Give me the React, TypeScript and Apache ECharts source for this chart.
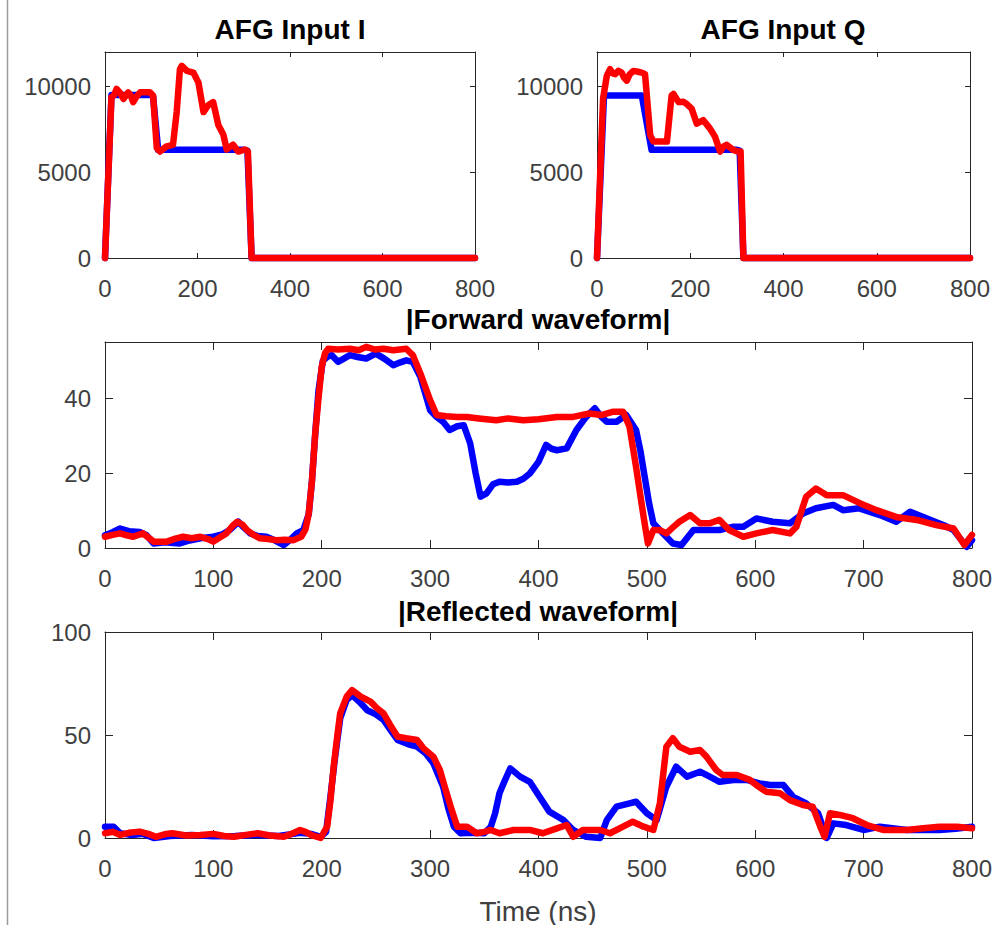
import React, { useEffect, useRef } from "react";
import * as echarts from "echarts";

// ---- Data (time in ns, value) ----
const inputIBlue: [number, number][] = [
  [0, 0], [14, 9500], [100, 9500], [104, 9400], [115, 6300], [300, 6300], [308, 6250], [317, 0], [800, 0],
];
const inputIRed: [number, number][] = [
  [0, 0], [14, 9370], [20, 9500], [25, 9850], [33, 9600], [40, 9270], [50, 9650], [55, 9500], [61, 9080],
  [68, 9400], [76, 9650], [90, 9650], [97, 9650], [104, 9460], [112, 6400], [119, 6200], [133, 6500],
  [147, 6590], [155, 8500], [162, 10990], [166, 11190], [177, 10900], [191, 10800], [202, 10230],
  [213, 8500], [223, 8900], [234, 9080], [245, 7750], [256, 7180], [263, 6320], [277, 6600], [288, 6200],
  [303, 6320], [309, 6200], [317, 0], [800, 0],
];
const inputQBlue: [number, number][] = [
  [0, 0], [15, 9465], [96, 9465], [117, 6300], [300, 6300], [306, 6250], [314, 0], [800, 0],
];
const inputQRed: [number, number][] = [
  [0, 0], [13, 9270], [21, 10610], [28, 11000], [34, 10750], [39, 10710], [46, 10900], [53, 10800],
  [58, 10500], [64, 10330], [70, 10700], [78, 10900], [88, 10850], [96, 10800], [103, 10710],
  [114, 7160], [121, 6780], [135, 6780], [150, 6780], [160, 9465], [164, 9560], [175, 9080], [185, 9100],
  [192, 8980], [203, 8700], [214, 7830], [228, 8030], [242, 7550], [253, 7070], [264, 6200], [272, 6500],
  [278, 6590], [292, 6300], [303, 6200], [308, 6200], [314, 0], [800, 0],
];
const forwardBlue: [number, number][] = [
  [0, 3.4], [7, 4.2], [14, 5.2], [22, 4.5], [32, 4.3], [38, 3.5], [45, 1.2], [55, 1.5], [69, 1.2], [78, 2.0],
  [88, 2.6], [100, 3.0], [108, 3.6], [115, 4.8], [123, 7.0], [128, 5.5], [134, 3.9], [141, 3.2], [149, 3.0],
  [157, 2.0], [165, 0.8], [172, 2.5], [177, 3.9], [183, 4.8], [188, 9], [191, 18], [194, 30.6], [197, 42],
  [201, 50], [205, 51], [209, 51.5], [215, 49.7], [220, 50.5], [226, 51.5], [233, 51], [241, 50.6],
  [250, 51.9], [258, 50.5], [266, 48.8], [272, 49.5], [278, 50.1], [284, 49.7], [291, 45.7], [300, 36.8],
  [306, 35], [312, 33.7], [318, 31.5], [325, 32.5], [331, 32.8], [337, 27.9], [342, 20], [346.5, 13.7],
  [352, 14.6], [358, 17], [364, 17.7], [372, 17.5], [380, 17.7], [386, 18.5], [392, 19.9], [400, 23],
  [407, 27.5], [412, 26.5], [417, 26.1], [426, 26.6], [435, 31.5], [444, 35], [452, 37.3], [458, 35],
  [463, 33.7], [472, 33.7], [481, 35.5], [490, 31.5], [494, 26], [498, 19], [502, 12], [506, 6.6],
  [515, 3.9], [524, 1.2], [532, 0.8], [538, 3], [543, 4.8], [555, 4.8], [567, 4.8], [580, 5.7], [589, 5.7],
  [601, 7.9], [616, 7.0], [632, 6.6], [644, 9.2], [656, 10.6], [672, 11.5], [681, 10.1], [696, 10.6],
  [715, 8.8], [730, 7.0], [743, 9.7], [755, 8.3], [774, 6.1], [783, 4.8], [795, 0.3], [800, 2.1],
];
const forwardRed: [number, number][] = [
  [0, 3.0], [7, 3.5], [14, 3.9], [20, 3.4], [26, 3.0], [35, 3.9], [45, 1.7], [57, 1.7], [65, 2.5], [72, 3.0],
  [80, 2.6], [88, 3.0], [95, 2.4], [100, 1.7], [107, 3.0], [112, 3.9], [118, 6.0], [122, 7.0], [127, 6.2],
  [131, 4.8], [137, 3.5], [143, 2.6], [150, 2.4], [158, 2.1], [166, 2.2], [174, 2.1], [181, 3.0], [185, 5.0],
  [188, 9.2], [191, 18], [194, 30.6], [197, 40], [200, 48.4], [203, 52], [206, 53.2], [215, 53.0],
  [226, 53.2], [234, 52.8], [241, 53.7], [249, 53.0], [257, 53.2], [266, 52.8], [278, 53.2], [284, 51.5],
  [291, 46.6], [300, 39.5], [306, 35.5], [315, 35.2], [325, 35.0], [334, 35.0], [345, 34.6], [361, 34.1],
  [372, 34.6], [386, 34.1], [400, 34.4], [417, 35.0], [432, 35.0], [447, 35.9], [458, 35.5], [469, 36.4],
  [478, 36.4], [484, 32.4], [490, 21.7], [497, 8.3], [501, 1.2], [506, 4.8], [512, 4.8], [518, 3.9],
  [524, 5.5], [530, 7.0], [540, 8.8], [549, 6.6], [558, 6.6], [567, 7.5], [576, 4.8], [589, 3.0],
  [601, 3.9], [616, 4.8], [632, 3.9], [638, 5.7], [647, 13.7], [656, 15.9], [666, 14.1], [681, 14.1],
  [697, 11.9], [712, 10.1], [730, 8.3], [749, 7.5], [767, 6.1], [783, 5.2], [793, 0.8], [800, 3.5],
];
const reflectedBlue: [number, number][] = [
  [0, 5.5], [8, 5.5], [14, 2.3], [25, 1.5], [35, 2], [45, 0], [60, 1], [80, 1.5], [100, 0.8], [120, 1],
  [140, 1.5], [160, 1], [180, 2.5], [190, 2], [199, 0.5], [204, 3], [208, 20], [212, 37.9], [217, 58],
  [223, 67], [228, 69.4], [235, 66], [242, 62], [250, 60], [257, 57.3], [264, 52], [270, 47.6], [280, 45.5],
  [288, 44.3], [296, 41], [303, 36.3], [312, 24.9], [317, 14], [322, 5.5], [328, 2.3], [340, 2.5],
  [350, 2.3], [356, 5.5], [360, 12], [364, 21.7], [369, 28], [374, 33.8], [383, 29.8], [392, 27.3],
  [401, 20], [410, 12.8], [423, 8.7], [432, 3.9], [444, 0.6], [457, 0], [463, 8.7], [472, 15.2],
  [484, 16.8], [490, 17.6], [500, 12], [509, 8.7], [518, 24.9], [527, 34.6], [537, 29.8], [549, 32.2],
  [558, 29.8], [567, 27.3], [580, 28.2], [592, 28.2], [604, 26.5], [614, 25.7], [626, 25.7], [635, 20],
  [647, 16.8], [658, 12], [666, 0], [672, 7.1], [684, 6.3], [700, 3.9], [715, 5.5], [740, 3.9],
  [770, 3.9], [785, 4.5], [800, 5.5],
];
const reflectedRed: [number, number][] = [
  [0, 2.3], [7, 3], [14, 1.5], [22, 2.5], [32, 3.1], [40, 2], [47, 0.6], [55, 1.8], [62, 2.3], [75, 1.2],
  [88, 1.5], [100, 2], [110, 1], [119, 0.6], [130, 1.5], [141, 2.3], [152, 1.2], [165, 0.6], [172, 2],
  [180, 3.9], [185, 3], [190, 1.5], [199, 0], [205, 5.5], [208, 18], [211, 34.6], [214, 48], [217, 60.5],
  [223, 68.6], [228, 71.8], [236, 68.6], [245, 66.2], [251, 63], [257, 60.5], [263, 55], [270, 49.2],
  [278, 48.4], [288, 47.6], [294, 43.5], [303, 39.5], [309, 33], [314, 24], [319, 15.2], [325, 5.5],
  [334, 5.5], [343, 2.3], [350, 3], [356, 3.9], [364, 2.3], [377, 3.9], [392, 3.9], [404, 2.3], [417, 4.7],
  [426, 6.3], [432, 0.6], [441, 3.9], [457, 3.9], [466, 2.3], [478, 5.5], [487, 7.9], [497, 5.5],
  [506, 3.9], [512, 16.8], [518, 44.3], [524, 48.4], [530, 44.3], [540, 41.9], [549, 42.7], [555, 39.5],
  [564, 33], [570, 30.6], [583, 30.6], [595, 28.2], [601, 25.7], [610, 22.5], [623, 21.7], [632, 18.4],
  [644, 16], [653, 15.2], [660, 5.5], [664, 0.6], [669, 12], [678, 11.2], [690, 9.6], [703, 6.3],
  [718, 3.9], [740, 3.9], [755, 4.7], [770, 5.5], [786, 5.5], [800, 4.7],
];

const panelTitles = ["AFG Input I", "AFG Input Q", "|Forward waveform|", "|Reflected waveform|"];
const xLabel = "Time (ns)";
const xMax = 800;
const xIntervals = [200, 200, 100, 100];
const yMaxes = [12000, 12000, 55, 100];
const yIntervals = [5000, 5000, 20, 50];

const FONT = "'Liberation Sans', Arial, Helvetica, sans-serif";
const AXIS_COLOR = "#262626";
const LABEL_COLOR = "#404040";

export default function App() {
  const ref = useRef<HTMLDivElement>(null);
  useEffect(() => {
    if (!ref.current) return;
    const chart = echarts.init(ref.current, undefined, { renderer: "svg" });
    const grids = [
      { left: 105, top: 52, width: 370, height: 206 },
      { left: 597, top: 52, width: 373, height: 206 },
      { left: 105, top: 342, width: 867, height: 206 },
      { left: 105, top: 632, width: 867, height: 206 },
    ];
    const seriesData = [
      [inputIBlue, inputIRed],
      [inputQBlue, inputQRed],
      [forwardBlue, forwardRed],
      [reflectedBlue, reflectedRed],
    ];
    const xAxes: any[] = [];
    const yAxes: any[] = [];
    const series: any[] = [];
    grids.forEach((g, i) => {
      const tickLen = i < 2 ? 5 : 8;
      const axLine = { show: true, onZero: false, lineStyle: { color: AXIS_COLOR, width: 1 } };
      const tick = { show: true, inside: true, length: tickLen, lineStyle: { color: AXIS_COLOR, width: 1 } };
      xAxes.push({
        type: "value", gridIndex: i, min: 0, max: xMax, interval: xIntervals[i], position: "bottom",
        axisLine: axLine, axisTick: tick, splitLine: { show: false },
        axisLabel: { margin: 18, fontSize: 24, color: LABEL_COLOR, fontFamily: FONT },
      });
      xAxes.push({
        type: "value", gridIndex: i, min: 0, max: xMax, interval: xIntervals[i], position: "top",
        axisLine: axLine, axisTick: tick, splitLine: { show: false }, axisLabel: { show: false },
      });
      const yi = yIntervals[i];
      yAxes.push({
        type: "value", gridIndex: i, min: 0, max: yMaxes[i], interval: yi, position: "left",
        axisLine: axLine, axisTick: tick, splitLine: { show: false },
        axisLabel: {
          margin: 14, fontSize: 24, color: LABEL_COLOR, fontFamily: FONT,
          formatter: (v: number) => (v % yi === 0 ? String(v) : ""),
        },
      });
      yAxes.push({
        type: "value", gridIndex: i, min: 0, max: yMaxes[i], interval: yi, position: "right",
        axisLine: axLine, axisTick: tick, splitLine: { show: false }, axisLabel: { show: false },
      });
      const [blue, red] = seriesData[i];
      [
        { data: blue, color: "#0000ff", z: 3 },
        { data: red, color: "#ff0000", z: 4 },
      ].forEach((s) => {
        series.push({
          type: "line", xAxisIndex: 2 * i, yAxisIndex: 2 * i, data: s.data, showSymbol: false,
          symbol: "none", clip: false, z: s.z, silent: true,
          lineStyle: { color: s.color, width: 6.5, cap: "round", join: "round" },
        });
      });
    });
    const titleStyle = { fontSize: 28, fontWeight: "bold", fill: "#000", fontFamily: FONT, textAlign: "center", textVerticalAlign: "middle" };
    const titlePos = [
      [290, 29],
      [783, 29],
      [538, 319],
      [538, 611],
    ];
    const graphic: any[] = [
      { type: "line", shape: { x1: 7.5, y1: 0, x2: 7.5, y2: 925 }, style: { stroke: "#9a9a9a", lineWidth: 1.5 } },
      ...panelTitles.map((t, i) => ({
        type: "text", x: titlePos[i][0], y: titlePos[i][1], style: { ...titleStyle, text: t },
      })),
      {
        type: "text", x: 538, y: 911,
        style: { text: xLabel, fontSize: 28, fill: LABEL_COLOR, fontFamily: FONT, textAlign: "center", textVerticalAlign: "middle" },
      },
    ];
    chart.setOption({
      animation: false,
      backgroundColor: "#ffffff",
      grid: grids.map((g) => ({ ...g, containLabel: false })),
      xAxis: xAxes,
      yAxis: yAxes,
      series,
      graphic,
    });
    return () => chart.dispose();
  }, []);
  return (
    <div
      ref={ref}
      style={{ position: "absolute", left: 0, top: 0, width: 995, height: 925, background: "#fff" }}
    />
  );
}
